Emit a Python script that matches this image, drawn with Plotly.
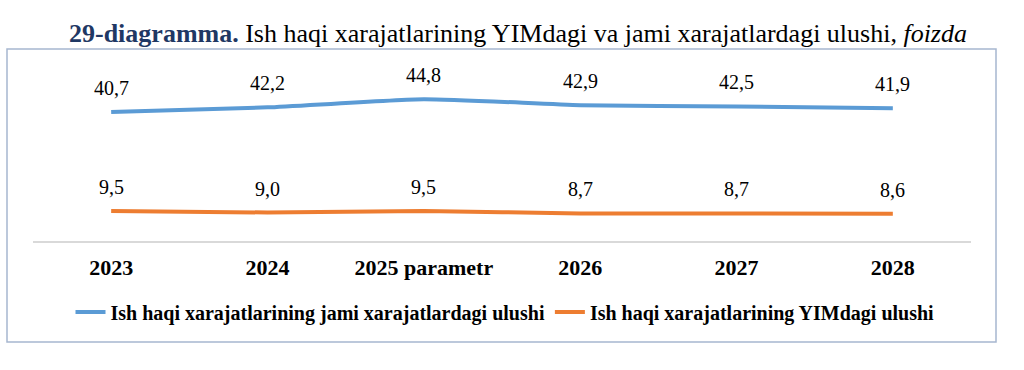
import plotly.graph_objects as go

categories = ["2023", "2024", "2025 parametr", "2026", "2027", "2028"]
jami_share = [40.7, 42.2, 44.8, 42.9, 42.5, 41.9]
yim_share = [9.5, 9.0, 9.5, 8.7, 8.7, 8.6]
jami_labels = ["40,7", "42,2", "44,8", "42,9", "42,5", "41,9"]
yim_labels = ["9,5", "9,0", "9,5", "8,7", "8,7", "8,6"]
series_names = ["Ish haqi xarajatlarining jami xarajatlardagi ulushi",
                "Ish haqi xarajatlarining YIMdagi ulushi"]
colors = ["#5B9BD5", "#ED7D31"]

W, H = 1024, 370
L, R, T, B = 33, 971, 51, 241  # plot area in pixels

def px(x):
    return (x - L) / (R - L)

def py(y):
    return (B - y) / (B - T)

fig = go.Figure()
for vals, name, col in [(jami_share, series_names[0], colors[0]),
                        (yim_share, series_names[1], colors[1])]:
    fig.add_trace(go.Scatter(
        x=categories, y=vals, name=name, mode="lines",
        line=dict(color=col, width=4, shape="spline", smoothing=0.5),
        hoverinfo="skip"))

annotations = []
for vals, labs in [(jami_share, jami_labels), (yim_share, yim_labels)]:
    for i, (v, t) in enumerate(zip(vals, labs)):
        annotations.append(dict(
            x=i, y=v, xref="x", yref="y", text=t, showarrow=False,
            yanchor="middle", yshift=24,
            font=dict(family="Liberation Serif", size=20, color="#000000")))

annotations.append(dict(
    x=px(518), y=py(34), xref="paper", yref="paper", showarrow=False,
    xanchor="center", yanchor="middle",
    text="<b><span style='color:#1F3864'>29-diagramma.</span></b> "
         "Ish haqi xarajatlarining YIMdagi va jami xarajatlardagi ulushi, <i>foizda</i>",
    font=dict(family="Liberation Serif", size=26, color="#000000")))

fig.update_layout(
    width=W, height=H,
    margin=dict(l=L, r=W - R, t=T, b=H - B, autoexpand=False),
    paper_bgcolor="white", plot_bgcolor="white",
    showlegend=True,
    legend=dict(orientation="h", x=px(505), y=py(312), xanchor="center",
                yanchor="middle", font=dict(family="Liberation Serif", size=20,
                                            color="#000000", weight="bold"),
                bgcolor="rgba(0,0,0,0)"),
    xaxis=dict(type="category", categoryorder="array", categoryarray=categories,
               range=[-0.5, len(categories) - 0.5],
               showgrid=False, zeroline=False, showline=True,
               linecolor="#D9D9D9", linewidth=2, ticks="",
               tickfont=dict(family="Liberation Serif", size=22,
                             color="#000000", weight="bold"),
               ticklabelstandoff=6, fixedrange=True),
    yaxis=dict(range=[0, 60], showgrid=False, zeroline=False,
               showticklabels=False, showline=False, fixedrange=True),
    annotations=annotations,
    shapes=[dict(type="rect", xref="paper", yref="paper",
                 x0=px(7), x1=px(996), y0=py(342), y1=py(49),
                 line=dict(color="#A7B7CF", width=1.5), layer="below")],
)

fig.write_html("out.html", config={"displayModeBar": False},
               post_script="document.body.style.margin='0';")
